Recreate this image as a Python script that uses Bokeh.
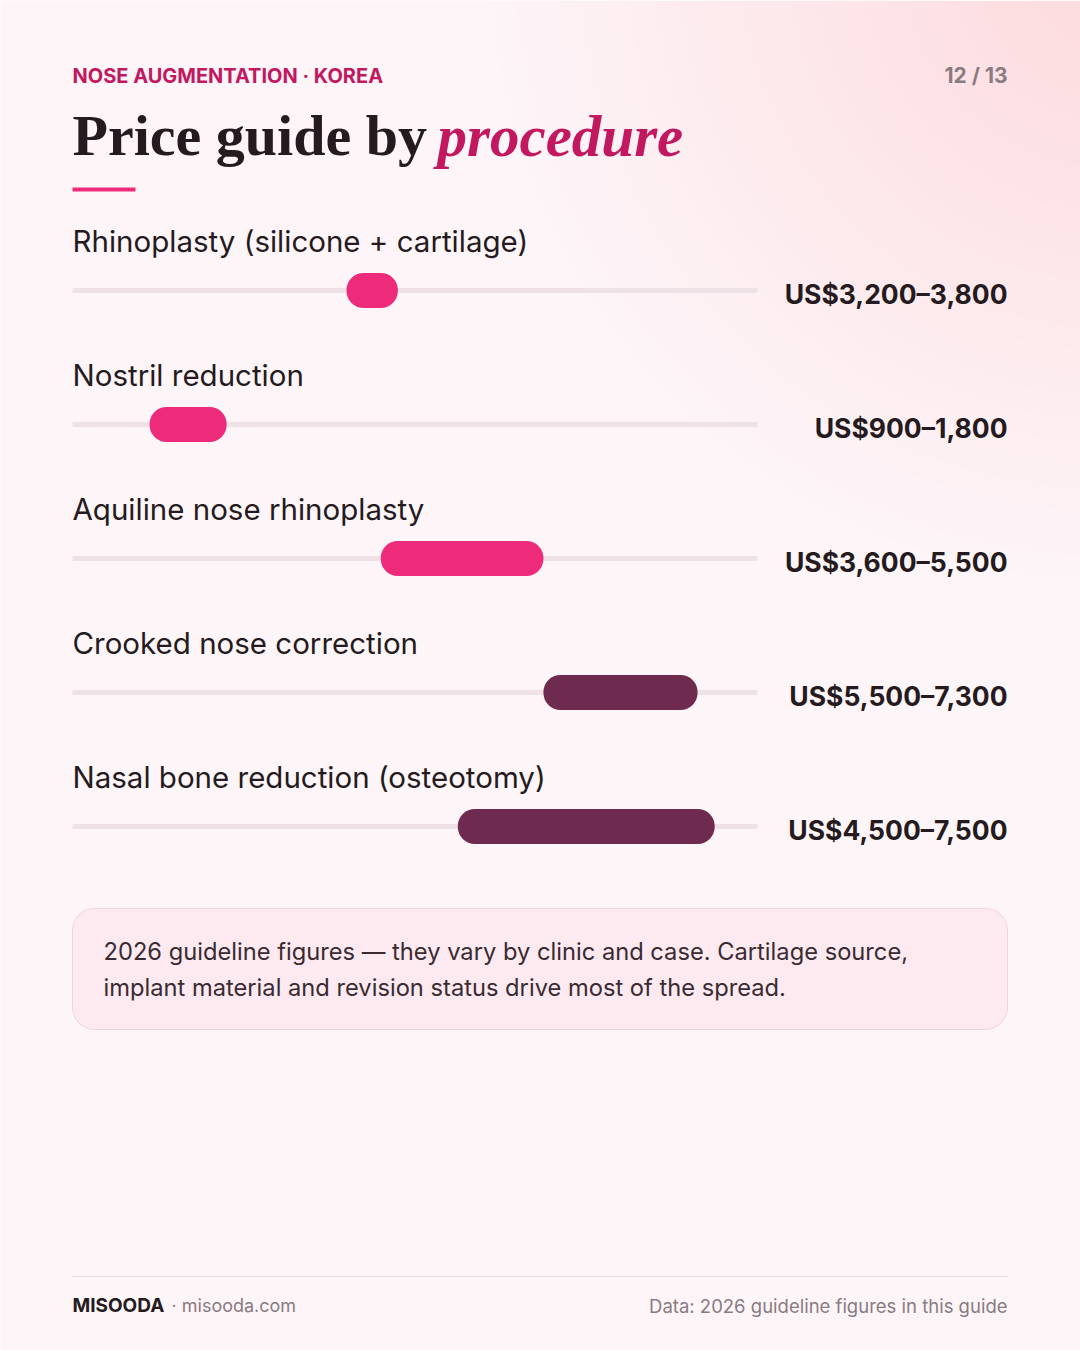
from bokeh.plotting import figure
from bokeh.models import Range1d
from bokeh.core.properties import value
from bokeh.embed import file_html
from bokeh.resources import INLINE

# ---- data ----
procedures = [
    "Rhinoplasty (silicone + cartilage)",
    "Nostril reduction",
    "Aquiline nose rhinoplasty",
    "Crooked nose correction",
    "Nasal bone reduction (osteotomy)",
]
price_low = [3200, 900, 3600, 5500, 4500]
price_high = [3800, 1800, 5500, 7300, 7500]
scale_max = 8000
kicker = "NOSE AUGMENTATION · KOREA"
page_no = "12 / 13"
title_main = "Price guide by"
title_em = "procedure"
note_lines = [
    "2026 guideline figures — they vary by clinic and case. Cartilage source,",
    "implant material and revision status drive most of the spread.",
]
brand = "MISOODA"
site = "· misooda.com"
source = "Data: 2026 guideline figures in this guide"

# ---- layout constants ----
W, H = 1080, 1350
TRACK_X0, TRACK_X1 = 72, 757
RIGHT = 1007
ROW0, STEP = 240, 134

PINK = "#ee2a7b"
PLUM = "#6e2a4f"
DARK = "#241a20"
GREY = "#8a7a82"
SANS = "Inter"

px_per_usd = (TRACK_X1 - TRACK_X0) / scale_max
usd_start = (0 - TRACK_X0) / px_per_usd
usd_end = (W - TRACK_X0) / px_per_usd

p = figure(width=W, height=H, x_range=Range1d(0, W), y_range=Range1d(H, 0),
           output_backend="svg", toolbar_location=None, min_border=0,
           background_fill_color="#fdf5f8", border_fill_color="#fdf5f8")
p.extra_x_ranges = {"usd": Range1d(usd_start, usd_end)}
p.axis.visible = False
p.grid.visible = False
p.outline_line_color = None

# soft pink glow top-right
for i in range(26):
    r = 620 - i * 23
    p.circle(x=[1110], y=[-40], radius=r, fill_color="#fcd3e2", fill_alpha=0.028, line_color=None)

# header
p.text(x=[72], y=[75], text=[kicker], text_font=value(SANS), text_font_style="bold",
       text_font_size="20px", text_color="#c2185f", text_align="left", text_baseline="middle")
p.text(x=[RIGHT], y=[75], text=[page_no], text_font=value(SANS), text_font_style="bold",
       text_font_size="21px", text_color=GREY, text_align="right", text_baseline="middle")
p.text(x=[72], y=[135], text=[title_main], text_font=value("Liberation Serif"), text_font_style="bold",
       text_font_size="58px", text_color=DARK, text_align="left", text_baseline="middle")
p.text(x=[437], y=[135], text=[title_em], text_font=value("Liberation Serif"), text_font_style="bold italic",
       text_font_size="59px", text_color="#c2185f", text_align="left", text_baseline="middle")
p.segment(x0=[72], y0=[189], x1=[135], y1=[189], line_color=PINK, line_width=4)

# rows
n = len(procedures)
label_y = [ROW0 + i * STEP for i in range(n)]
bar_y = [y + 50 for y in label_y]
val_y = [y + 53 for y in label_y]
colors = [PLUM if hi > 7000 else PINK for hi in price_high]
values_txt = [f"US${lo:,}–{hi:,}" for lo, hi in zip(price_low, price_high)]

p.hbar(y=bar_y, left=[0] * n, right=[scale_max] * n, height=5, fill_color="#efe2e7",
       line_color=None, x_range_name="usd")
p.hbar(y=bar_y, left=price_low, right=price_high, height=35, fill_color=colors,
       line_color=None, border_radius=17, x_range_name="usd")
p.text(x=[72] * n, y=label_y, text=procedures, text_font=value(SANS),
       text_font_size="29.5px", text_color=DARK, text_align="left", text_baseline="middle")
p.text(x=[RIGHT] * n, y=val_y, text=values_txt, text_font=value(SANS), text_font_style="bold",
       text_font_size="26.5px", text_color=DARK, text_align="right", text_baseline="middle")

# note box
p.quad(left=[72], right=[RIGHT], top=[908], bottom=[1029], fill_color="#fdeaf1",
       line_color="#f0d3de", line_width=1, border_radius=22)
p.text(x=[103, 103], y=[951, 987], text=note_lines, text_font=value(SANS),
       text_font_size="23.7px", text_color="#3a2a32", text_align="left", text_baseline="middle")

# footer
p.segment(x0=[72], y0=[1276], x1=[RIGHT], y1=[1276], line_color="#eadde2", line_width=1)
p.text(x=[72], y=[1305], text=[brand], text_font=value(SANS), text_font_style="bold",
       text_font_size="19px", text_color=DARK, text_align="left", text_baseline="middle")
p.text(x=[171], y=[1305], text=[site], text_font=value(SANS),
       text_font_size="18px", text_color=GREY, text_align="left", text_baseline="middle")
p.text(x=[RIGHT], y=[1305], text=[source], text_font=value(SANS),
       text_font_size="18.5px", text_color=GREY, text_align="right", text_baseline="middle")

open("out.html", "w").write(file_html(p, INLINE))
